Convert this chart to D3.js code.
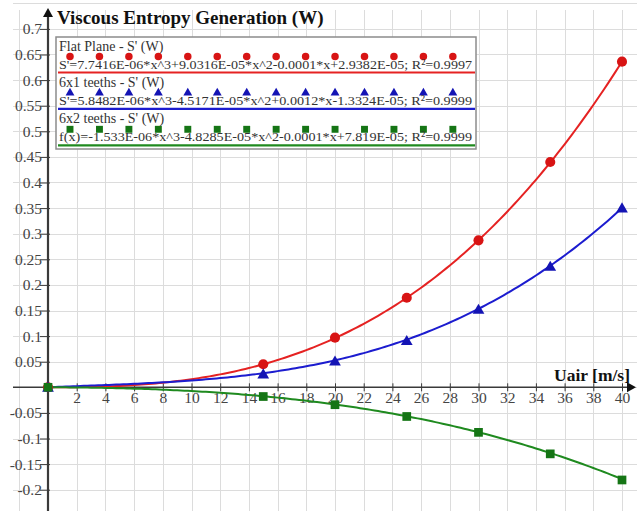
<!DOCTYPE html>
<html>
<head>
<meta charset="utf-8">
<script src="https://cdn.jsdelivr.net/npm/d3@7"></script>
<style>
  html, body { margin: 0; padding: 0; background: #fff; }
  svg { display: block; }
  text { font-family: "Liberation Serif", "DejaVu Serif", serif; }
</style>
</head>
<body>
<svg id="chart" width="637" height="511"></svg>
<script>
// Air velocity (m/s) at which entropy generation was evaluated
const uAir = [0, 15, 20, 25, 30, 35, 40];

// Viscous entropy generation S' (W) for each configuration
const flatPlane = [0, 0.045, 0.097, 0.175, 0.287, 0.440, 0.636];
const teeth6x1  = [0, 0.026, 0.051, 0.091, 0.152, 0.236, 0.350];
const teeth6x2  = [0, -0.018, -0.034, -0.057, -0.088, -0.130, -0.181];

// Cubic trendline coefficients as printed in the legend: [x^3, x^2, x, const]
const trendFlat = [7.7416e-06, 9.0316e-05, -0.0001, 2.9382e-05];
const trend6x1  = [5.8482e-06, -4.5171e-05, 0.0012, -1.3324e-05];
const trend6x2  = [-1.533e-06, -4.8285e-05, -0.0001, 7.819e-05];

const seriesNames = ["Flat Plane - S' (W)", "6x1 teeths - S' (W)", "6x2 teeths - S' (W)"];
const trendLabels = [
  "S'=7.7416E-06*x^3+9.0316E-05*x^2-0.0001*x+2.9382E-05; R\u00B2=0.9997",
  "S'=5.8482E-06*x^3-4.5171E-05*x^2+0.0012*x-1.3324E-05; R\u00B2=0.9999",
  "f(x)=-1.533E-06*x^3-4.8285E-05*x^2-0.0001*x+7.819E-05; R\u00B2=0.9999"
];

const xTicks = d3.range(2, 41, 2);
const yTicks = [-0.2, -0.15, -0.1, -0.05, 0.05, 0.1, 0.15, 0.2, 0.25, 0.3, 0.35, 0.4, 0.45, 0.5, 0.55, 0.6, 0.65, 0.7];
const xGrid = d3.range(-2, 43, 2);
const yGrid = d3.range(-0.25, 0.751, 0.05);

const titleText = "Viscous Entropy Generation (W)";
const xAxisTitle = "Uair [m/s]";

const svg = d3.select("#chart");
const W = 637, H = 511;

const x = d3.scaleLinear().domain([0, 40]).range([48, 622]);
const y = d3.scaleLinear().domain([0, 0.7]).range([387.3, 28.9]);

const colors = {
  red:   { line: "#e52222", mark: "#d81414" },
  blue:  { line: "#1c1ccf", mark: "#1414b4" },
  green: { line: "#1f8a1f", mark: "#157515" }
};
const styles = [colors.red, colors.blue, colors.green];
const shapes = [d3.symbolCircle, d3.symbolTriangle, d3.symbolSquare];
const plotSizes = [80, 60, 76];

// background grid
const grid = svg.append("g").attr("stroke", "#dcdcdc").attr("stroke-width", 1);
grid.selectAll("line.v").data(xGrid).join("line")
  .attr("class", "v")
  .attr("x1", d => Math.round(x(d)) + 0.5).attr("x2", d => Math.round(x(d)) + 0.5)
  .attr("y1", 10).attr("y2", H);
grid.selectAll("line.h").data(yGrid).join("line")
  .attr("class", "h")
  .attr("x1", 13).attr("x2", W)
  .attr("y1", d => Math.round(y(d)) + 0.5).attr("y2", d => Math.round(y(d)) + 0.5);

// axes drawn through the origin
const axisColor = "#3a3a3a";
const xAxis = d3.axisBottom(x).tickValues(xTicks).tickSize(4).tickSizeOuter(0).tickFormat(d3.format("d"));
const gx = svg.append("g").attr("transform", `translate(0,${y(0)})`).call(xAxis);
gx.select(".domain").remove();
gx.selectAll(".tick line").attr("stroke", axisColor).attr("y1", -4).attr("y2", 4);
gx.selectAll(".tick text")
  .attr("fill", "#444").attr("font-size", 15.5).attr("dy", 0).attr("y", 16);

const yAxis = d3.axisLeft(y).tickValues(yTicks).tickSize(4).tickSizeOuter(0).tickFormat(d => String(+d.toFixed(2)));
const gy = svg.append("g").attr("transform", `translate(${x(0)},0)`).call(yAxis);
gy.select(".domain").remove();
gy.selectAll(".tick line").attr("stroke", axisColor).attr("x1", -8).attr("x2", 2);
gy.selectAll(".tick text")
  .attr("fill", "#444").attr("font-size", 15.5).attr("x", -6).attr("dy", "0.32em");

svg.append("line").attr("x1", 13).attr("x2", 630).attr("y1", y(0)).attr("y2", y(0))
  .attr("stroke", axisColor).attr("stroke-width", 1.6);
svg.append("line").attr("x1", x(0)).attr("x2", x(0)).attr("y1", H).attr("y2", 14)
  .attr("stroke", axisColor).attr("stroke-width", 2.2);
// arrow heads
svg.append("path").attr("d", `M${x(0)},8 L${x(0) - 5},17 L${x(0) + 5},17 Z`).attr("fill", "#111");
svg.append("path").attr("d", `M636,${y(0)} L627,${y(0) - 5} L627,${y(0) + 5} Z`).attr("fill", "#111");

// titles
svg.append("text").attr("x", 57).attr("y", 24).attr("font-size", 19).attr("font-weight", "bold")
  .attr("fill", "#111").text(titleText);
svg.append("text").attr("x", 630).attr("y", 381).attr("text-anchor", "end")
  .attr("font-size", 17.5).attr("font-weight", "bold").attr("fill", "#111").text(xAxisTitle);

// fitted cubic trendlines (legend equations) and measured points
const allSeries = [flatPlane, teeth6x1, teeth6x2];
const trends = [trendFlat, trend6x1, trend6x2];
const cubic = c => u => ((c[0] * u + c[1]) * u + c[2]) * u + c[3];
const xDomain = x.domain();
const plot = svg.append("g");
trends.forEach((c, i) => {
  const f = cubic(c);
  const line = d3.line().x(u => x(u)).y(u => y(f(u)));
  plot.append("path").datum(d3.range(xDomain[0], xDomain[1] + 0.001, 0.25)).attr("d", line)
    .attr("fill", "none").attr("stroke", styles[i].line).attr("stroke-width", 2);
});
allSeries.forEach((vals, i) => {
  const pts = uAir.map((u, j) => [u, vals[j]]);
  plot.selectAll(null).data(pts).join("path")
    .attr("transform", d => `translate(${x(d[0])},${y(d[1]) + (i === 1 ? 1 : 0)})`)
    .attr("d", d3.symbol().type(shapes[i]).size(plotSizes[i]))
    .attr("fill", styles[i].mark);
});

// legend
const lg = svg.append("g");
lg.append("rect").attr("x", 56).attr("y", 37).attr("width", 420).attr("height", 112)
  .attr("fill", "#fff").attr("stroke", "#8c8c8c").attr("stroke-width", 1.5);
const legendMarkX = d3.range(14).map(k => 70 + k * 29.45);
seriesNames.forEach((name, i) => {
  const top = 37 + i * 36.4;
  lg.append("text").attr("x", 59).attr("y", top + 13.5).attr("font-size", 14).attr("fill", "#333").text(name);
  lg.selectAll(null).data(legendMarkX).join("path")
    .attr("transform", d => `translate(${d},${top + 19.5})`)
    .attr("d", d3.symbol().type(shapes[i]).size([44, 34, 48][i]))
    .attr("fill", styles[i].mark);
  lg.append("text").attr("x", 59).attr("y", top + 31.5).attr("font-size", 13.5).attr("fill", "#333")
    .attr("textLength", 413).attr("lengthAdjust", "spacingAndGlyphs").text(trendLabels[i]);
  lg.append("line").attr("x1", 58).attr("x2", 475).attr("y1", top + 35.5).attr("y2", top + 35.5)
    .attr("stroke", styles[i].line).attr("stroke-width", 2.2);
});
</script>
</body>
</html>
